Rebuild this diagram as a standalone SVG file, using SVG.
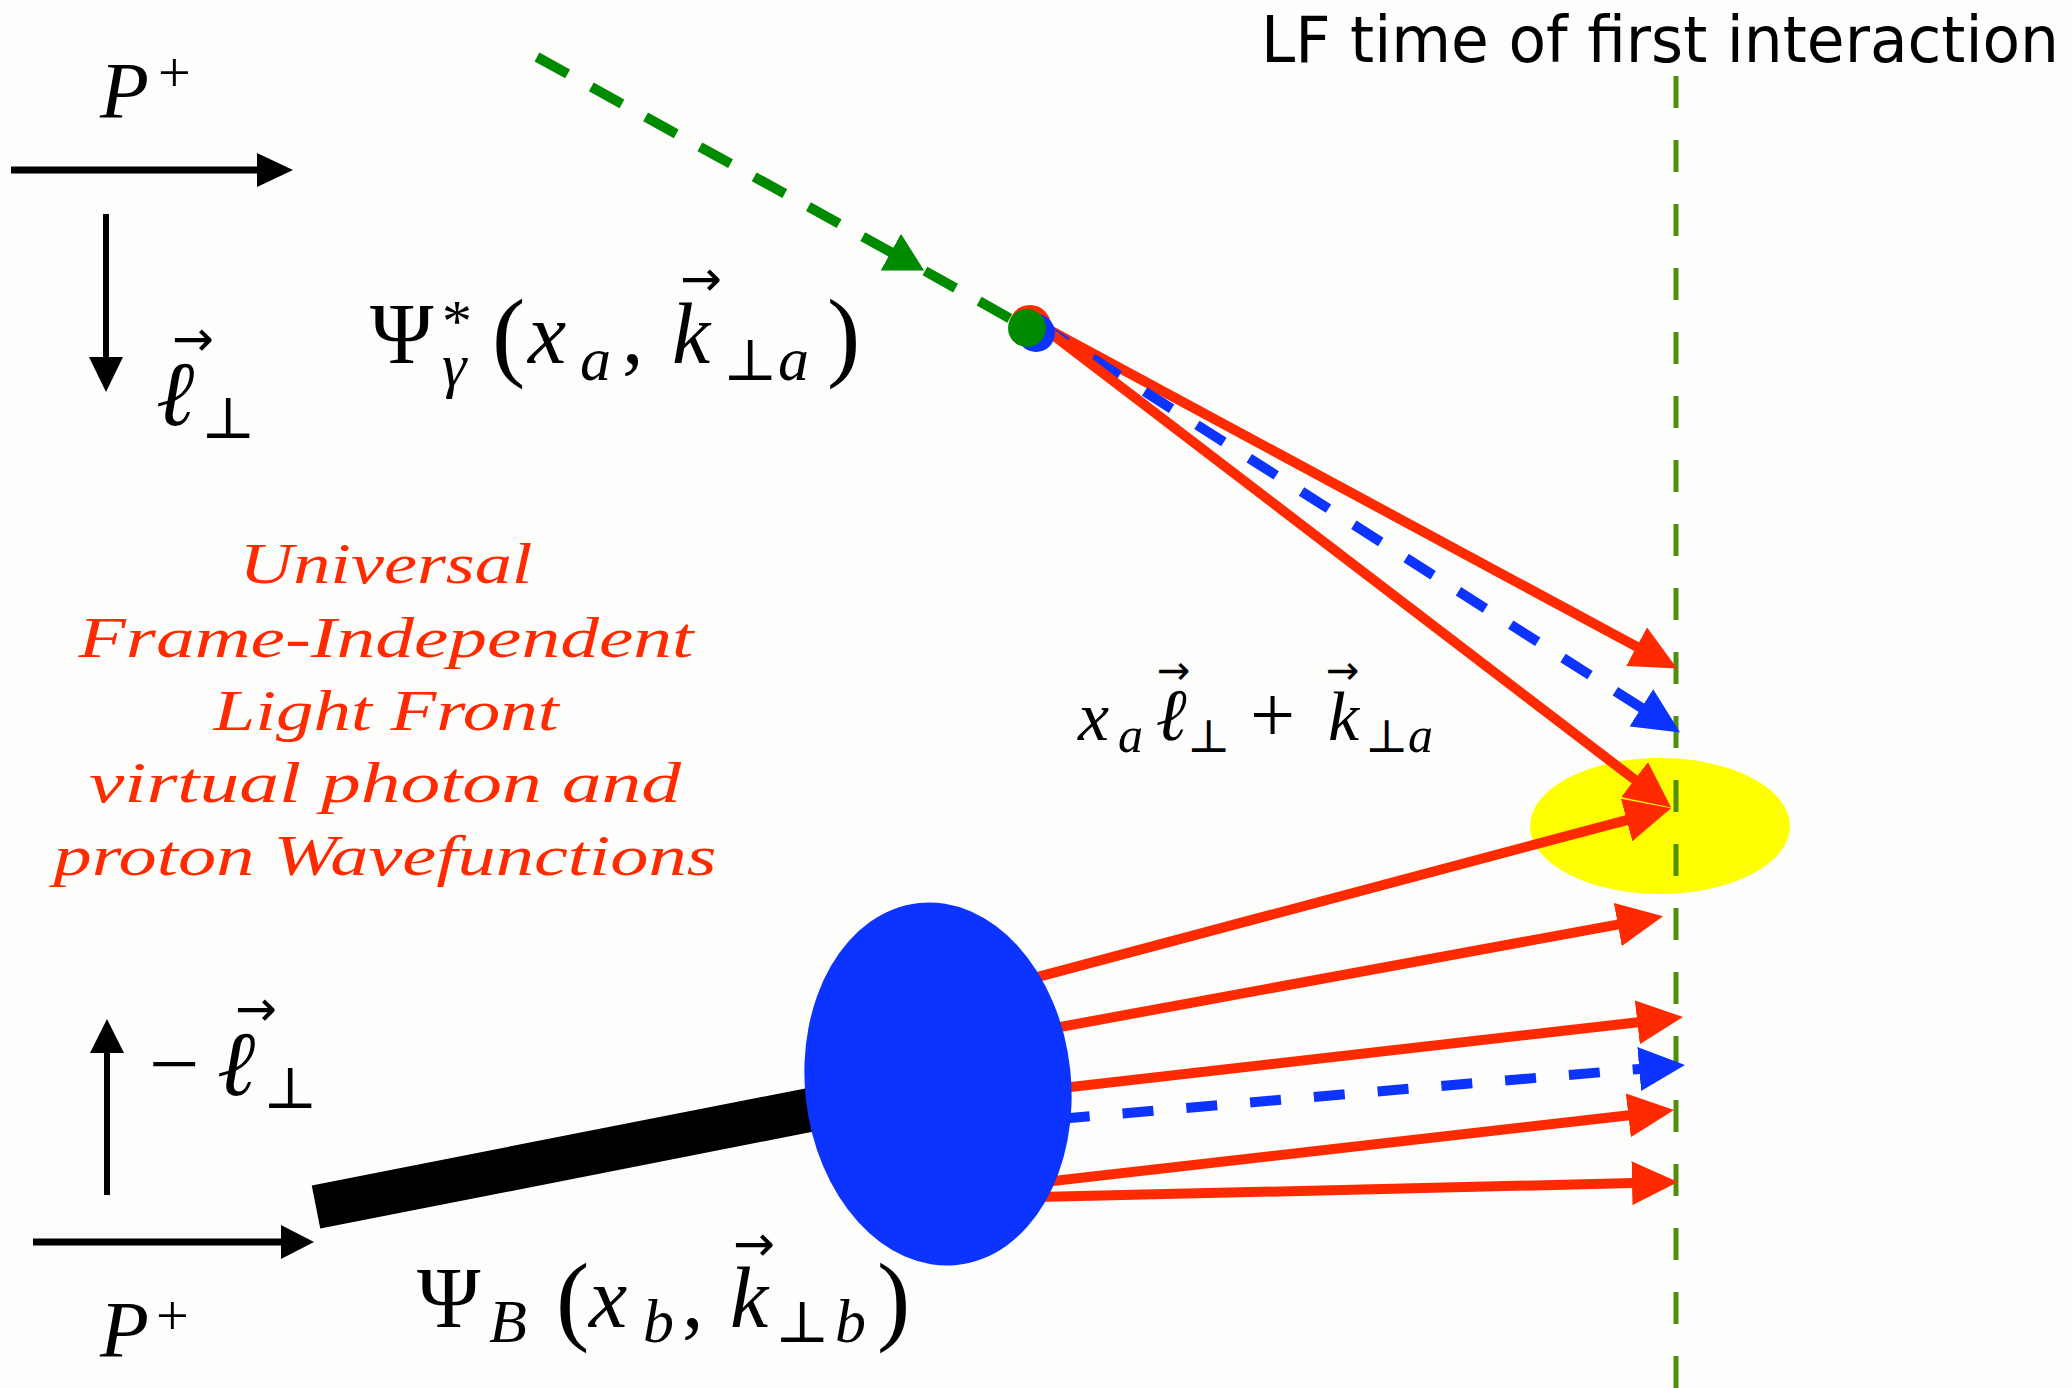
<svg xmlns="http://www.w3.org/2000/svg" width="2072" height="1388" viewBox="0 0 2072 1388">
<style>
.m{font-family:"Liberation Serif","DejaVu Serif",serif;fill:#000}
.i{font-style:italic}
.v{font-family:"DejaVu Sans",sans-serif;font-style:normal}
.red{font-family:"Liberation Serif","DejaVu Serif",serif;font-style:italic;fill:#ff2a00;font-size:58px}
.lf{font-family:"DejaVu Sans","Liberation Sans",sans-serif;font-size:64px;fill:#000}
.rl{stroke:#ff2a00;stroke-width:10;fill:none}
.bl{stroke:#0d33ff;stroke-width:10;fill:none;stroke-dasharray:32 30}
.gl{stroke:#008a00;stroke-width:10;fill:none;stroke-dasharray:35 27}
.ka{stroke:#000;fill:none}
</style>
<defs>
<marker id="ahR" markerUnits="userSpaceOnUse" viewBox="0 0 46 44" markerWidth="46" markerHeight="44" refX="1" refY="22" orient="auto"><path d="M0,0 L46,22 L0,44 z" fill="#ff2a00"/></marker>
<marker id="ahB" markerUnits="userSpaceOnUse" viewBox="0 0 46 44" markerWidth="46" markerHeight="44" refX="1" refY="22" orient="auto"><path d="M0,0 L46,22 L0,44 z" fill="#0d33ff"/></marker>
<marker id="ahG" markerUnits="userSpaceOnUse" viewBox="0 0 38 42" markerWidth="38" markerHeight="42" refX="1" refY="21" orient="auto"><path d="M0,0 L38,21 L0,42 z" fill="#008a00"/></marker>
</defs>
<rect width="2072" height="1388" fill="#fdfdfb"/>

<g id="interaction-region"><ellipse cx="1660" cy="826" rx="130" ry="68" fill="#ffff00"/></g>

<g id="lf-time-line">
<line x1="1676" y1="76" x2="1676" y2="1388" stroke="#4f8f10" stroke-width="5" stroke-dasharray="32 32"/>
<text class="lf" x="1261" y="62" textLength="798" lengthAdjust="spacingAndGlyphs">LF time of first interaction</text>
</g>

<g id="connectors">
<path class="gl" d="M537,57 L891.7,252.6" marker-end="url(#ahG)"/>
<path class="gl" d="M925,271 L1020,324"/>
<path class="rl" d="M1040,325 L1637.5,647.2" marker-end="url(#ahR)"/>
<path class="bl" d="M1040,325 L1642.2,708.3" marker-end="url(#ahB)"/>
<path class="rl" d="M1040,325 L1635.4,780.1" marker-end="url(#ahR)"/>
<path class="rl" d="M1000,987 L1627.6,819.8" marker-end="url(#ahR)"/>
<path class="rl" d="M1000,1038 L1618.8,924.3" marker-end="url(#ahR)"/>
<path class="rl" d="M1000,1095 L1638.3,1022.2" marker-end="url(#ahR)"/>
<path class="bl" d="M1000,1124 L1640.2,1068.9" style="stroke-dasharray:31 33;stroke-dashoffset:5" marker-end="url(#ahB)"/>
<path class="rl" d="M1000,1187 L1629.3,1115.2" marker-end="url(#ahR)"/>
<path class="rl" d="M1000,1198 L1633,1183.1" marker-end="url(#ahR)"/>
<line x1="316" y1="1207" x2="850" y2="1102" stroke="#000" stroke-width="44"/>
</g>

<g id="photon-vertex">
<circle cx="1030" cy="326" r="21" fill="#ff2a00"/>
<circle cx="1036" cy="333" r="19" fill="#0d33ff"/>
<circle cx="1027" cy="328" r="19" fill="#008a00"/>
</g>

<g id="proton-blob"><ellipse cx="938" cy="1084" rx="133" ry="182" transform="rotate(-6 938 1084)" fill="#0d33ff"/></g>

<g id="axes">
<line class="ka" x1="11" y1="170" x2="260" y2="170" stroke-width="7"/>
<polygon points="257,153 293,170 257,187" fill="#000"/>
<line class="ka" x1="106" y1="214" x2="106" y2="360" stroke-width="6"/>
<polygon points="89,357 123,357 106,392" fill="#000"/>
<line class="ka" x1="107" y1="1195" x2="107" y2="1050" stroke-width="6"/>
<polygon points="90,1053 124,1053 107,1019" fill="#000"/>
<line class="ka" x1="33" y1="1242" x2="284" y2="1242" stroke-width="7"/>
<polygon points="281,1225 314,1242 281,1259" fill="#000"/>
</g>

<g id="labels">
<text class="m"><tspan class="i" x="100" y="118" font-size="80">P</tspan><tspan x="158" y="92" font-size="58">+</tspan></text>
<text class="m"><tspan class="i" x="100" y="1357" font-size="80">P</tspan><tspan x="156" y="1335" font-size="58">+</tspan></text>

<text class="m"><tspan class="i" x="156" y="425" font-size="92">ℓ</tspan><tspan class="v" x="172" y="356" font-size="50">→</tspan><tspan x="201" y="438" font-size="58">⊥</tspan></text>

<text class="m"><tspan x="149" y="1094" font-size="90">−</tspan><tspan class="i" x="217" y="1095" font-size="92">ℓ</tspan><tspan class="v" x="235" y="1026" font-size="50">→</tspan><tspan x="263" y="1108" font-size="58">⊥</tspan></text>

<text class="m"><tspan x="370" y="363" font-size="86">Ψ</tspan><tspan x="442" y="341" font-size="60">*</tspan><tspan class="i" x="442" y="386" font-size="62">γ</tspan><tspan x="492" y="368" font-size="100">(</tspan><tspan class="i" x="528" y="363" font-size="86">x</tspan><tspan class="i" x="580" y="380" font-size="62">a</tspan><tspan x="622" y="363" font-size="86">,</tspan><tspan class="i" x="672" y="363" font-size="86">k</tspan><tspan class="v" x="680" y="296" font-size="50">→</tspan><tspan x="723" y="380" font-size="58">⊥</tspan><tspan class="i" x="778" y="380" font-size="62">a</tspan><tspan x="827" y="368" font-size="100">)</tspan></text>

<text class="m"><tspan class="i" x="1078" y="740" font-size="70">x</tspan><tspan class="i" x="1118" y="752" font-size="50">a</tspan><tspan class="i" x="1156" y="740" font-size="74">ℓ</tspan><tspan class="v" x="1157" y="684" font-size="40">→</tspan><tspan x="1187" y="752" font-size="46">⊥</tspan><tspan x="1250" y="742" font-size="80">+</tspan><tspan class="i" x="1328" y="740" font-size="70">k</tspan><tspan class="v" x="1326" y="684" font-size="40">→</tspan><tspan x="1365" y="752" font-size="46">⊥</tspan><tspan class="i" x="1408" y="752" font-size="50">a</tspan></text>

<text class="m"><tspan x="417" y="1327" font-size="86">Ψ</tspan><tspan class="i" x="489" y="1342" font-size="62">B</tspan><tspan x="556" y="1332" font-size="100">(</tspan><tspan class="i" x="589" y="1327" font-size="86">x</tspan><tspan class="i" x="643" y="1342" font-size="62">b</tspan><tspan x="682" y="1327" font-size="86">,</tspan><tspan class="i" x="730" y="1327" font-size="86">k</tspan><tspan class="v" x="733" y="1261" font-size="50">→</tspan><tspan x="775" y="1342" font-size="58">⊥</tspan><tspan class="i" x="835" y="1342" font-size="62">b</tspan><tspan x="877" y="1332" font-size="100">)</tspan></text>

<g id="caption">
<text class="red" x="386" y="583" text-anchor="middle" textLength="293" lengthAdjust="spacingAndGlyphs">Universal</text>
<text class="red" x="386" y="657" text-anchor="middle" textLength="615" lengthAdjust="spacingAndGlyphs">Frame-Independent</text>
<text class="red" x="386" y="730" text-anchor="middle" textLength="345" lengthAdjust="spacingAndGlyphs">Light Front</text>
<text class="red" x="385" y="802" text-anchor="middle" textLength="592" lengthAdjust="spacingAndGlyphs">virtual photon and</text>
<text class="red" x="385" y="875" text-anchor="middle" textLength="663" lengthAdjust="spacingAndGlyphs">proton Wavefunctions</text>
</g>
</g>
</svg>
